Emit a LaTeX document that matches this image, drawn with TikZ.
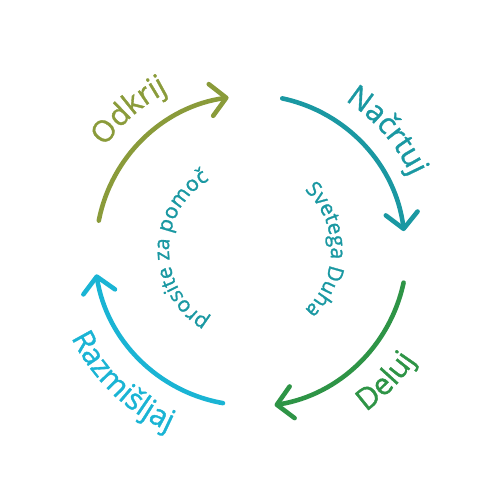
\documentclass[tikz,border=0pt]{standalone}
\usepackage{fontspec}
\setmainfont{Open Sans}
\newfontfamily\lblface[FakeBold=1.2]{Open Sans}
\usetikzlibrary{arrows.meta,decorations.text}
\definecolor{colOlive}{HTML}{8A9B3A}
\definecolor{colTeal}{HTML}{1A98A2}
\definecolor{colGreen}{HTML}{2E9446}
\definecolor{colCyan}{HTML}{1AB4D4}
\newcommand\lblfont{\lblface\fontsize{17pt}{20pt}\selectfont}
\newcommand\innfont{\lblface\fontsize{12pt}{14pt}\selectfont}
\begin{document}
\begin{tikzpicture}[
  cyclearrow/.style={line width=2.6pt, line cap=round,
    -{Straight Barb[length=3.1mm,width=6.4mm,round]}},
  curvedtext/.style 2 args={decorate, decoration={text along path,
    text align=center, text color=#1, text={#2}}}
]
\useasboundingbox (-5,-5) rectangle (5,5);
% arrows
\draw[cyclearrow, colOlive] (169:3.08) arc[start angle=169, end angle=98, radius=3.08];
\draw[cyclearrow, colTeal] (78:3.1) arc[start angle=78, end angle=7, radius=3.1];
\draw[cyclearrow, colGreen] (-12:3.14) arc[start angle=-12, end angle=-81, radius=3.14];
\draw[cyclearrow, colCyan] (-100:3.11) arc[start angle=-100, end angle=-171, radius=3.11];
% outer labels
\path[curvedtext={colOlive}{|\lblfont|Odkrij}] (171:3.56) arc[start angle=171, end angle=91, radius=3.56];
\path[curvedtext={colTeal}{|\lblfont|Načrtuj}] (81:3.54) arc[start angle=81, end angle=1, radius=3.54];
\path[curvedtext={colGreen}{|\lblfont|Deluj}] (-84:3.98) arc[start angle=-84, end angle=-4, radius=3.98];
\path[curvedtext={colCyan}{|\lblfont|Razmišljaj}] (186:3.98) arc[start angle=186, end angle=266, radius=3.98];
% inner labels
\path[curvedtext={colTeal}{|\innfont|prosite za pomoč}] (250:1.62) arc[start angle=250, end angle=110, radius=1.62];
\path[curvedtext={colTeal}{|\innfont|Svetega Duha}] (70:1.62) arc[start angle=70, end angle=-70, radius=1.62];
\end{tikzpicture}
\end{document}
